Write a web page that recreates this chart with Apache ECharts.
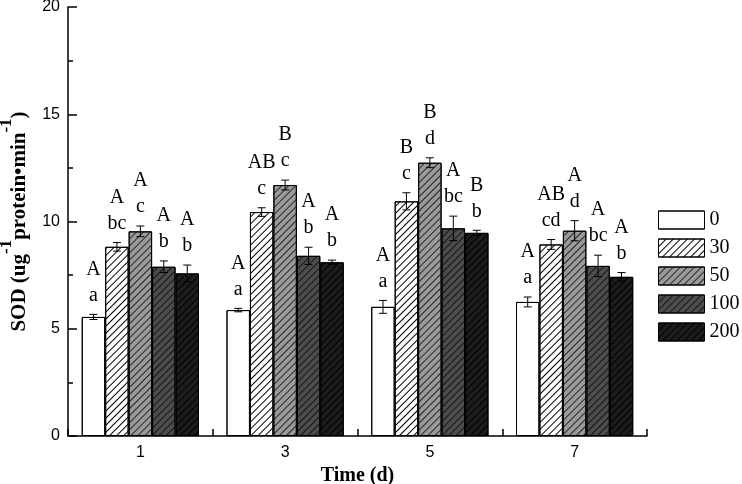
<!DOCTYPE html>
<html>
<head>
<meta charset="utf-8">
<script src="https://cdn.jsdelivr.net/npm/echarts@6/dist/echarts.min.js"></script>
<style>html,body{margin:0;padding:0;background:#fff}#c{width:742px;height:484px}</style>
</head>
<body>
<div id="c"></div>
<script>
const categories = ['1', '3', '5', '7'];
const treatments = ['0', '30', '50', '100', '200'];
const mean0 = [5.55, 5.87, 6.02, 6.25];
const mean30 = [8.82, 10.44, 10.94, 8.93];
const mean50 = [9.54, 11.70, 12.74, 9.57];
const mean100 = [7.89, 8.40, 9.68, 7.93];
const mean200 = [7.58, 8.10, 9.47, 7.42];
const err0 = [0.12, 0.08, 0.30, 0.23];
const err30 = [0.20, 0.20, 0.40, 0.23];
const err50 = [0.25, 0.23, 0.23, 0.47];
const err100 = [0.27, 0.40, 0.57, 0.50];
const err200 = [0.39, 0.10, 0.12, 0.20];
const upper0 = ['A', 'A', 'A', 'A'];
const upper30 = ['A', 'AB', 'B', 'AB'];
const upper50 = ['A', 'B', 'B', 'A'];
const upper100 = ['A', 'A', 'A', 'A'];
const upper200 = ['A', 'A', 'B', 'A'];
const lower0 = ['a', 'a', 'a', 'a'];
const lower30 = ['bc', 'c', 'c', 'cd'];
const lower50 = ['c', 'c', 'd', 'd'];
const lower100 = ['b', 'b', 'bc', 'bc'];
const lower200 = ['b', 'b', 'b', 'b'];
const yTicks = [0, 5, 10, 15, 20];

const means = [mean0, mean30, mean50, mean100, mean200];
const errs = [err0, err30, err50, err100, err200];
const uppers = [upper0, upper30, upper50, upper100, upper200];
const lowers = [lower0, lower30, lower50, lower100, lower200];

const fills = ['#ffffff', '#ffffff', '#9a9a9a', '#4c4c4c', '#1c1c1c'];
const hatch = [null, '#000000', '#262626', '#141414', '#000000'];
const CAT_GAP = 0.19;

function decalFor(k) {
  if (!hatch[k]) return { symbol: 'none' };
  return {
    symbol: 'rect', symbolSize: 1,
    dashArrayX: [1, 0], dashArrayY: [1, 3.6],
    rotation: -Math.PI / 4, color: hatch[k]
  };
}

const series = [];
treatments.forEach((name, k) => {
  series.push({
    name: name, type: 'bar',
    data: means[k],
    barGap: '0%', barCategoryGap: (CAT_GAP * 100) + '%',
    itemStyle: { color: fills[k], borderColor: '#000', borderWidth: 1, decal: decalFor(k) },
    emphasis: { disabled: true },
    z: 2
  });
});
treatments.forEach((name, k) => {
  series.push({
    type: 'custom', name: name + '_err',
    coordinateSystem: 'cartesian2d',
    data: means[k].map((v, i) => [i, v]),
    clip: false, z: 5, silent: true,
    renderItem: function (params, api) {
      const i = params.dataIndex;
      const m = means[k][i], e = errs[k][i];
      const band = api.size([1, 0])[0];
      const barW = band * (1 - CAT_GAP) / treatments.length;
      const x = api.coord([i, m])[0] + (k - 2) * barW;
      const yt = api.coord([i, m + e])[1];
      const yb = api.coord([i, m - e])[1];
      const cap = 4;
      const ls = { stroke: '#000', lineWidth: 1 };
      return {
        type: 'group',
        children: [
          { type: 'line', shape: { x1: x, y1: yt, x2: x, y2: yb }, style: ls },
          { type: 'line', shape: { x1: x - cap, y1: yt, x2: x + cap, y2: yt }, style: ls },
          { type: 'line', shape: { x1: x - cap, y1: yb, x2: x + cap, y2: yb }, style: ls },
          { type: 'text', x: x, y: yt - 6, style: {
              text: uppers[k][i] + '\n' + lowers[k][i],
              fontFamily: 'Liberation Serif', fontSize: 20, lineHeight: 26,
              fill: '#000', align: 'center', verticalAlign: 'bottom' } }
        ]
      };
    }
  });
});

const chart = echarts.init(document.getElementById('c'), null, { renderer: 'canvas' });
chart.setOption({
  animation: false,
  backgroundColor: '#fff',
  grid: { left: 68, right: 95, top: 7, bottom: 48, containLabel: false, outerBoundsMode: 'none' },
  legend: {
    data: treatments, orient: 'vertical', left: 658, top: 210, padding: 0,
    itemWidth: 46, itemHeight: 18, itemGap: 8, icon: 'rect',
    itemStyle: { borderColor: '#000', borderWidth: 1 },
    textStyle: { fontFamily: 'Liberation Serif', fontSize: 20, color: '#000' },
    selectedMode: false
  },
  xAxis: {
    type: 'category', data: categories,
    name: 'Time (d)', nameLocation: 'middle', nameGap: 28,
    nameTextStyle: { fontFamily: 'Liberation Serif', fontWeight: 'bold', fontSize: 20, color: '#000' },
    axisLine: { lineStyle: { color: '#000', width: 1.5 } },
    axisTick: { show: true, inside: true, length: 7, alignWithLabel: false, lineStyle: { color: '#000', width: 1.5 } },
    axisLabel: { fontFamily: 'Liberation Sans', fontSize: 16, color: '#000', margin: 9 },
    splitLine: { show: false }
  },
  yAxis: {
    type: 'value', min: yTicks[0], max: yTicks[yTicks.length - 1], interval: 5,
    name: '{b|SOD (ug}{s|-1}{b|protein•min}{s|-1}{b|)}',
    nameLocation: 'middle', nameGap: 38, nameRotate: 90,
    nameTextStyle: {
      rich: {
        b: { fontFamily: 'Liberation Serif', fontWeight: 'bold', fontSize: 21, color: '#000', lineHeight: 32, verticalAlign: 'bottom' },
        s: { fontFamily: 'Liberation Serif', fontWeight: 'bold', fontSize: 17, color: '#000', lineHeight: 32, verticalAlign: 'top' }
      }
    },
    axisLine: { show: true, lineStyle: { color: '#000', width: 1.5 } },
    axisTick: { show: true, inside: true, length: 9, lineStyle: { color: '#000', width: 1.5 } },
    minorTick: { show: true, splitNumber: 2, length: 5, lineStyle: { color: '#000', width: 1.5 } },
    axisLabel: { fontFamily: 'Liberation Sans', fontSize: 16, color: '#000', margin: 8 },
    splitLine: { show: false }
  },
  series: series
});
</script>
</body>
</html>
